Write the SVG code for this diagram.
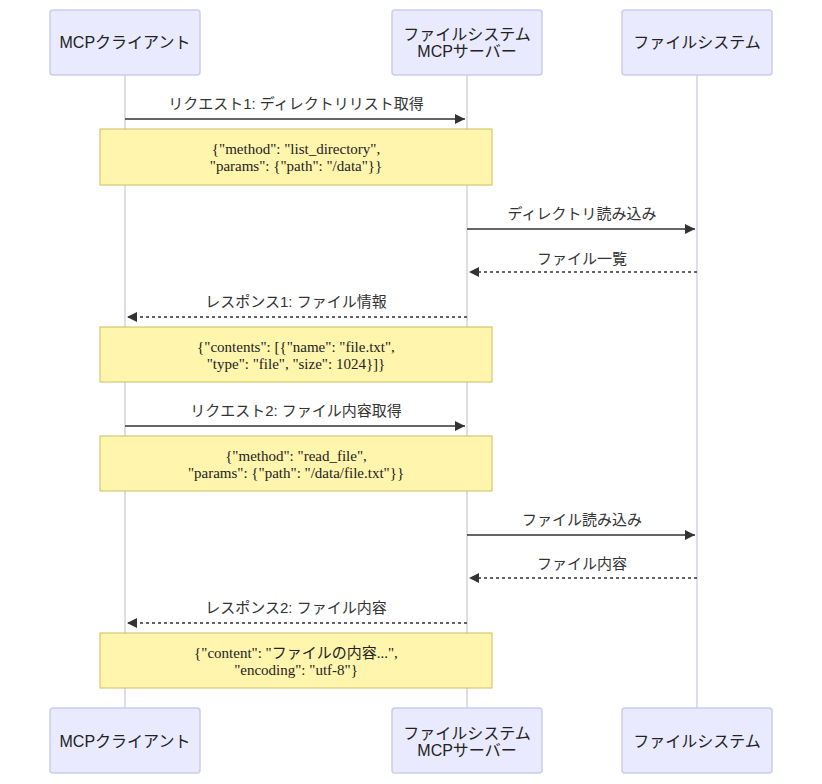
<svg xmlns="http://www.w3.org/2000/svg" width="822" height="784" viewBox="0 0 822 784">
<style>
.actor{fill:#eaeaff;stroke:#ccccf0;stroke-width:1.5}
.life{stroke:#d4d0e8;stroke-width:1.5}
.at{font-family:"Liberation Sans","Noto Sans CJK JP",sans-serif;font-size:16px;fill:#222;text-anchor:middle}
.mt{font-family:"Liberation Sans","Noto Sans CJK JP",sans-serif;font-size:15px;fill:#333;text-anchor:middle}
.msg{stroke:#333;stroke-width:1.5;fill:none}
.dash{stroke-dasharray:3,3}
.note{fill:#fff5ad;stroke:#c8c060;stroke-width:1}
.nt{font-family:"Liberation Serif","Noto Sans CJK JP",serif;font-size:15px;fill:#222;text-anchor:middle}
</style>
<defs><marker id="ah" markerWidth="12" markerHeight="10" refX="10" refY="5" orient="auto" markerUnits="userSpaceOnUse"><path d="M0,0 L10,5 L0,10 z" fill="#333"/></marker></defs>
<rect width="822" height="784" fill="#fff"/>
<g id="lifelines">
<line class="life" x1="125" y1="75" x2="125" y2="708"/>
<line class="life" x1="467" y1="75" x2="467" y2="708"/>
<line class="life" x1="697" y1="75" x2="697" y2="708"/>
</g>
<g id="client"><rect class="actor" x="50" y="10" width="150" height="65" rx="3"/><text class="at" x="125" y="48">MCPクライアント</text>
<rect class="actor" x="50" y="708" width="150" height="65" rx="3"/><text class="at" x="125" y="747">MCPクライアント</text></g>
<g id="server"><rect class="actor" x="392" y="10" width="150" height="65" rx="3"/><text class="at" x="467" y="40">ファイルシステム</text><text class="at" x="467" y="57">MCPサーバー</text>
<rect class="actor" x="392" y="708" width="150" height="65" rx="3"/><text class="at" x="467" y="739">ファイルシステム</text><text class="at" x="467" y="756">MCPサーバー</text></g>
<g id="fs"><rect class="actor" x="622" y="10" width="150" height="65" rx="3"/><text class="at" x="697" y="48">ファイルシステム</text>
<rect class="actor" x="622" y="708" width="150" height="65" rx="3"/><text class="at" x="697" y="747">ファイルシステム</text></g>
<g id="connectors">
<line class="msg" x1="125" y1="119" x2="465" y2="119" marker-end="url(#ah)"/><text class="mt" x="296" y="109">リクエスト1: ディレクトリリスト取得</text>
<line class="msg" x1="467" y1="229" x2="695" y2="229" marker-end="url(#ah)"/><text class="mt" x="582" y="219">ディレクトリ読み込み</text>
<line class="msg dash" x1="697" y1="272" x2="469" y2="272" marker-end="url(#ah)"/><text class="mt" x="582" y="264">ファイル一覧</text>
<line class="msg dash" x1="467" y1="317" x2="127" y2="317" marker-end="url(#ah)"/><text class="mt" x="296" y="307">レスポンス1: ファイル情報</text>
<line class="msg" x1="125" y1="426" x2="465" y2="426" marker-end="url(#ah)"/><text class="mt" x="296" y="416">リクエスト2: ファイル内容取得</text>
<line class="msg" x1="467" y1="535" x2="695" y2="535" marker-end="url(#ah)"/><text class="mt" x="582" y="525">ファイル読み込み</text>
<line class="msg dash" x1="697" y1="578" x2="469" y2="578" marker-end="url(#ah)"/><text class="mt" x="582" y="569">ファイル内容</text>
<line class="msg dash" x1="467" y1="623" x2="127" y2="623" marker-end="url(#ah)"/><text class="mt" x="296" y="613">レスポンス2: ファイル内容</text>
</g>
<g id="note1"><rect class="note" x="100" y="129" width="392" height="56"/><text class="nt" x="296" y="154">{"method": "list_directory",</text><text class="nt" x="296" y="171">"params": {"path": "/data"}}</text></g>
<g id="note2"><rect class="note" x="100" y="327" width="392" height="55"/><text class="nt" x="296" y="352">{"contents": [{"name": "file.txt",</text><text class="nt" x="296" y="369">"type": "file", "size": 1024}]}</text></g>
<g id="note3"><rect class="note" x="100" y="436" width="392" height="55"/><text class="nt" x="296" y="461">{"method": "read_file",</text><text class="nt" x="296" y="478">"params": {"path": "/data/file.txt"}}</text></g>
<g id="note4"><rect class="note" x="100" y="633" width="392" height="55"/><text class="nt" x="296" y="658">{"content": "ファイルの内容...",</text><text class="nt" x="296" y="675">"encoding": "utf-8"}</text></g>
</svg>
